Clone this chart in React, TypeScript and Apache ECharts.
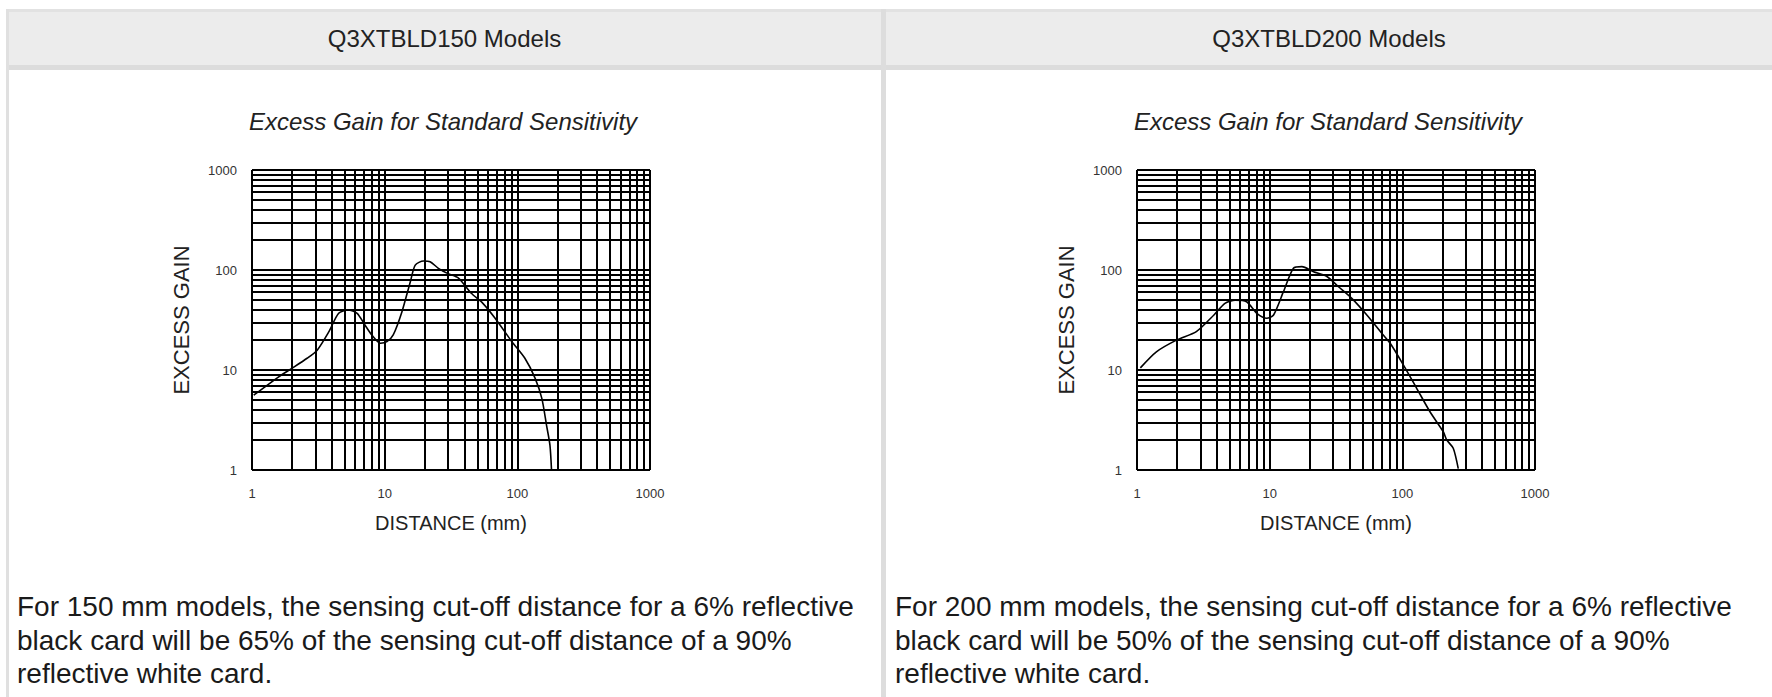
import React, { useEffect, useRef } from "react";
import * as echarts from "echarts";

// ---- data ----
const headers = ["Q3XTBLD150 Models", "Q3XTBLD200 Models"];
const chartTitle = "Excess Gain for Standard Sensitivity";
const xAxisName = "DISTANCE (mm)";
const yAxisName = "EXCESS GAIN";
const tickValues = [1, 10, 100, 1000];
const tickLabels = ["1", "10", "100", "1000"];
const gridValues = [
  1, 2, 3, 4, 5, 6, 7, 8, 9,
  10, 20, 30, 40, 50, 60, 70, 80, 90,
  100, 200, 300, 400, 500, 600, 700, 800, 900,
  1000,
];

const dist150 = [1.03, 1.6, 2, 2.6, 3.1, 3.8, 4.5, 5.3, 6.2, 7.1, 8, 9.3, 10.4, 11.6, 13.5, 15.6, 17, 19.6, 22, 25.4, 30, 36, 45, 55, 68, 91, 114, 136, 153, 166, 176, 181];
const gain150 = [5.6, 8.6, 10.4, 13.1, 15.8, 24.2, 36.9, 39.8, 36.9, 28.2, 22.4, 18.5, 19.2, 22.4, 38.3, 76, 112, 123, 121, 104, 92, 83, 58.5, 46.4, 32.9, 19.2, 13.1, 8.3, 5.2, 2.8, 1.78, 1.0];

const dist200 = [1.06, 1.4, 2, 2.8, 3.8, 4.6, 5.5, 6.7, 8, 9.5, 10.7, 12.7, 15.1, 17.5, 21.4, 27, 33, 41.6, 54, 70, 81, 102, 128, 162, 204, 216, 242, 264];
const gain200 = [10.5, 15.2, 20, 24.2, 35.5, 46.4, 50, 48.2, 36.9, 32.9, 35.5, 60.7, 104, 108, 96, 86, 68, 52, 35.5, 23.3, 18.5, 11.2, 6.6, 3.8, 2.4, 2.0, 1.65, 1.03];

const notes = [
  "For 150 mm models, the sensing cut-off distance for a 6% reflective\nblack card will be 65% of the sensing cut-off distance of a 90%\nreflective white card.",
  "For 200 mm models, the sensing cut-off distance for a 6% reflective\nblack card will be 50% of the sensing cut-off distance of a 90%\nreflective white card.",
];

const FONT = "'Liberation Sans', Arial, Helvetica, sans-serif";

function labelFor(v: number) {
  const i = tickValues.findIndex((t) => Math.abs(t - v) < 1e-6 * t);
  return i >= 0 ? tickLabels[i] : "";
}

export default function App() {
  const ref = useRef<HTMLDivElement>(null);

  useEffect(() => {
    if (!ref.current) return;
    const chart = echarts.init(ref.current, undefined, { renderer: "svg" });

    const panels = [
      { x0: 8, x1: 881, gridLeft: 252, textX: 17 },
      { x0: 886, x1: 1772, gridLeft: 1137, textX: 895 },
    ];
    const gridW = 398;
    const gridTop = 170;
    const gridH = 300;

    const curves = [
      dist150.map((d, i) => [d, gain150[i]]),
      dist200.map((d, i) => [d, gain200[i]]),
    ];

    const axisCommon = {
      type: "log" as const,
      logBase: 10,
      min: 1,
      max: 1000,
      axisLine: { show: false },
      axisTick: { show: false },
      splitLine: { show: false },
      minorSplitLine: { show: false },
    };

    const xAxis = panels.map((p, i) => ({
      ...axisCommon,
      gridIndex: i,
      name: xAxisName,
      nameLocation: "middle",
      nameGap: 43,
      nameTextStyle: { fontSize: 20, color: "#222", fontFamily: FONT },
      axisLabel: {
        fontSize: 13,
        color: "#333",
        fontFamily: FONT,
        margin: 17,
        formatter: (v: number) => labelFor(v),
      },
    }));

    const yAxis = panels.map((p, i) => ({
      ...axisCommon,
      gridIndex: i,
      name: yAxisName,
      nameLocation: "middle",
      nameRotate: 90,
      nameGap: 60,
      nameTextStyle: { fontSize: 22, color: "#222", fontFamily: FONT },
      axisLabel: {
        fontSize: 13,
        color: "#333",
        fontFamily: FONT,
        margin: 15,
        formatter: (v: number) => labelFor(v),
      },
    }));

    const gridLineStyle = { color: "#000", width: 2, type: "solid" as const };

    const series: any[] = [];
    panels.forEach((p, i) => {
      series.push({
        type: "line",
        xAxisIndex: i,
        yAxisIndex: i,
        data: [],
        silent: true,
        z: 1,
        markLine: {
          silent: true,
          symbol: ["none", "none"],
          label: { show: false },
          emphasis: { disabled: true },
          lineStyle: gridLineStyle,
          animation: false,
          data: [
            ...gridValues.map((v) => ({ xAxis: v })),
            ...gridValues.map((v) => ({ yAxis: v })),
          ],
        },
      });
      series.push({
        type: "line",
        name: headers[i],
        xAxisIndex: i,
        yAxisIndex: i,
        data: curves[i],
        smooth: 0.25,
        showSymbol: false,
        symbol: "none",
        z: 5,
        lineStyle: { color: "#000", width: 1.6 },
      });
    });

    const graphic: any[] = [];
    // table borders and header
    graphic.push({ type: "rect", shape: { x: 6, y: 9, width: 1766, height: 3 }, style: { fill: "#e2e2e2" }, silent: true });
    graphic.push({ type: "rect", shape: { x: 6, y: 9, width: 3, height: 688 }, style: { fill: "#e0e0e0" }, silent: true });
    graphic.push({ type: "rect", shape: { x: 9, y: 12, width: 1763, height: 53 }, style: { fill: "#ececec" }, silent: true });
    graphic.push({ type: "rect", shape: { x: 9, y: 65, width: 1763, height: 5 }, style: { fill: "#dcdcdc" }, silent: true });
    graphic.push({ type: "rect", shape: { x: 881, y: 9, width: 5, height: 688 }, style: { fill: "#dddddd" }, silent: true });

    panels.forEach((p, i) => {
      const cx = p.gridLeft + gridW / 2 - 8;
      graphic.push({
        type: "text",
        x: (p.x0 + p.x1) / 2,
        y: 38,
        style: {
          text: headers[i],
          fontSize: 24,
          fontFamily: FONT,
          fill: "#222",
          align: "center",
          verticalAlign: "middle",
          textAlign: "center",
          textVerticalAlign: "middle",
        },
        silent: true,
      });
      graphic.push({
        type: "text",
        x: cx,
        y: 121,
        style: {
          text: chartTitle,
          fontSize: 24,
          fontStyle: "italic",
          fontFamily: FONT,
          fill: "#222",
          align: "center",
          verticalAlign: "middle",
          textAlign: "center",
          textVerticalAlign: "middle",
        },
        silent: true,
      });
      graphic.push({
        type: "text",
        x: p.textX,
        y: 590,
        style: {
          text: notes[i],
          fontSize: 28,
          lineHeight: 33.5,
          fontFamily: FONT,
          fill: "#1a1a1a",
          align: "left",
          verticalAlign: "top",
          textAlign: "left",
          textVerticalAlign: "top",
        },
        silent: true,
      });
    });

    chart.setOption({
      animation: false,
      backgroundColor: "#ffffff",
      textStyle: { fontFamily: FONT },
      grid: panels.map((p) => ({
        left: p.gridLeft,
        top: gridTop,
        width: gridW,
        height: gridH,
        containLabel: false,
      })),
      xAxis,
      yAxis,
      series,
      graphic,
    });

    return () => chart.dispose();
  }, []);

  return (
    <div
      ref={ref}
      style={{ position: "fixed", left: 0, top: 0, width: 1772, height: 697, background: "#fff" }}
    />
  );
}
